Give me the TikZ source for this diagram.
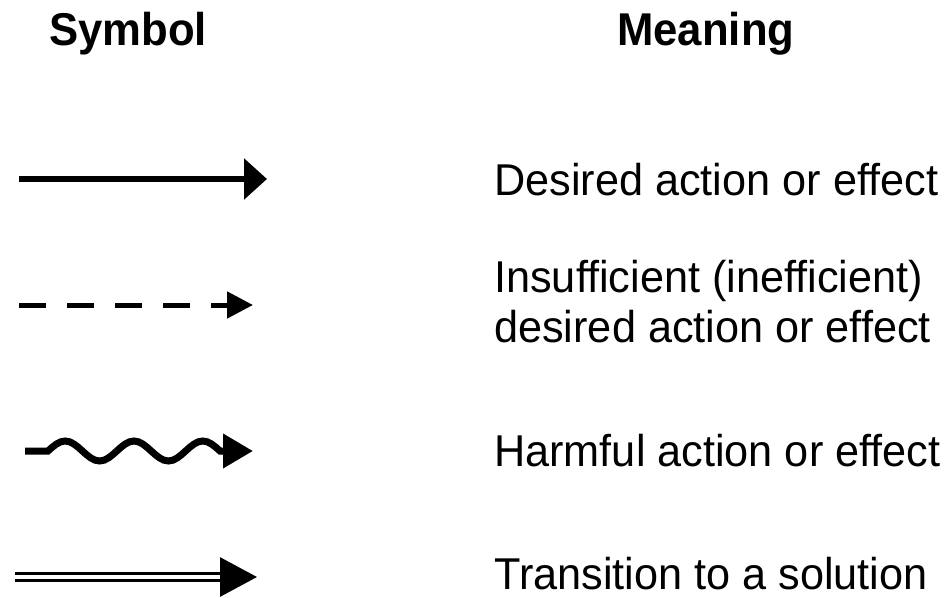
\documentclass[tikz,border=0pt]{standalone}
\usepackage{fontspec}
\setmainfont{Liberation Sans}
\usetikzlibrary{arrows.meta}
\tikzset{
  symhead/.style={anchor=base west,inner sep=0pt,
    font=\fontsize{32.7}{38}\selectfont\bfseries\addfontfeature{FakeStretch=0.95}},
  symtext/.style={anchor=base west,inner sep=0pt,
    font=\fontsize{31.7}{36}\selectfont\addfontfeature{FakeStretch=0.97}},
  symline/.style={line width=6*0.025cm},
  desired/.style={symline,-{Triangle[length=23*0.025cm,width=40*0.025cm]}},
  insufficient/.style={line width=5*0.025cm,dash pattern=on 27*0.025cm off 21*0.025cm,
    -{Triangle[length=26*0.025cm,width=26*0.025cm]}},
  harmful/.style={line width=7*0.025cm,-{Triangle[length=30*0.025cm,width=33*0.025cm]}},
  transition/.style={line width=3*0.025cm,double,double distance=4*0.025cm,
    -{Triangle[length=37*0.025cm,width=39*0.025cm]}}
}
\begin{document}
\begin{tikzpicture}[x=0.025cm,y=-0.025cm]
  \useasboundingbox (0,0) rectangle (948,598);
  % headings
  \node[symhead] (hsym) at (49,45) {Symbol};
  \node[symhead] (hmean) at (617,45) {Meaning};

  % symbols
  \coordinate (d1) at (19,179);  \coordinate (d2) at (267,179);
  \coordinate (i1) at (19,305);  \coordinate (i2) at (253,305);
  \coordinate (w1) at (25,451);  \coordinate (w2) at (253,451);
  \coordinate (t1) at (15,577);  \coordinate (t2) at (257,577);

  \draw[desired] (d1) -- (d2);
  \draw[insufficient] (i1) -- (i2);
  \draw[harmful] (w1) -- ++(23,0)
    sin ++(17.2,-10) cos ++(17.2,10) sin ++(17.2,10) cos ++(17.2,-10)
    sin ++(17.2,-10) cos ++(17.2,10) sin ++(17.2,10) cos ++(17.2,-10)
    sin ++(17.2,-10) cos ++(17.2,10) -- (w2);
  \draw[transition] (t1) -- (t2);

  % meanings
  \node[symtext] (mdes) at (494,195) {Desired action or effect};
  \node[symtext] (mins) at (494,292) {Insufficient (inefficient)};
  \node[symtext] (mins2) at (494,342) {desired action or effect};
  \node[symtext] (mharm) at (494,466) {Harmful action or effect};
  \node[symtext] (mtrans) at (494,589) {Transition to a solution};
\end{tikzpicture}
\end{document}
